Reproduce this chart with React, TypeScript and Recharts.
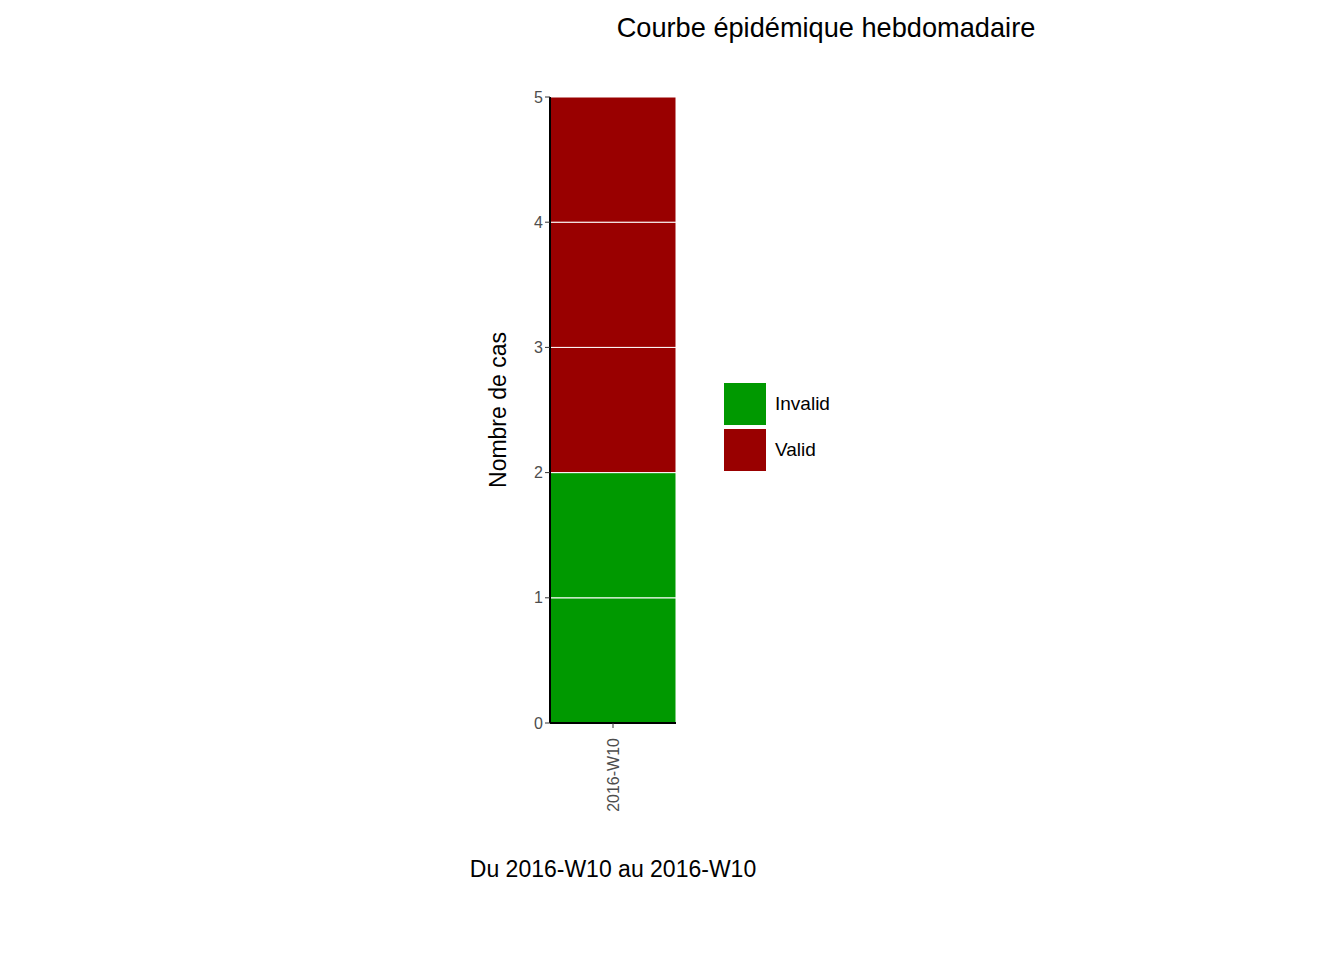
import { BarChart, Bar, XAxis, YAxis } from "recharts";

const weeks = ["2016-W10"];
const invalidCases = [1, 1];
const validCases = [1, 1, 1];
const yTicks = [0, 1, 2, 3, 4, 5];
const legendItems = [
  { label: "Invalid", color: "#009900" },
  { label: "Valid", color: "#990000" },
];

const data = weeks.map((w) => {
  const row: Record<string, number | string> = { week: w };
  invalidCases.forEach((v, i) => (row["inv" + i] = v));
  validCases.forEach((v, i) => (row["val" + i] = v));
  return row;
});

const font = "'Liberation Sans', Arial, sans-serif";

function XTick({ x, y, payload }: any) {
  return (
    <g transform={`translate(${x},${y + 8})`}>
      <text transform="rotate(-90)" textAnchor="end" dy={6} fill="#4d4d4d" fontSize={16} fontFamily={font}>
        {payload.value}
      </text>
    </g>
  );
}

export default function App() {
  return (
    <div style={{ position: "absolute", left: 0, top: 0, width: 1344, height: 960, background: "#fff", fontFamily: font }}>
      <BarChart
        width={1344}
        height={960}
        data={data}
        margin={{ top: 97, right: 668, left: 490, bottom: 107 }}
        barCategoryGap={0}
      >
        <XAxis
          dataKey="week"
          height={130}
          axisLine={{ stroke: "#000", strokeWidth: 2 }}
          tickLine={{ stroke: "#333" }}
          tickSize={5}
          tick={<XTick />}
          interval={0}
        />
        <YAxis
          width={60}
          domain={[0, 5]}
          ticks={yTicks}
          axisLine={{ stroke: "#000", strokeWidth: 2 }}
          tickLine={{ stroke: "#333" }}
          tickSize={5}
          tick={{ fill: "#4d4d4d", fontSize: 16, fontFamily: font }}
        />
        {invalidCases.map((_, i) => (
          <Bar key={"inv" + i} dataKey={"inv" + i} stackId="a" fill="#009900" stroke="#fff" strokeWidth={1} isAnimationActive={false} />
        ))}
        {validCases.map((_, i) => (
          <Bar key={"val" + i} dataKey={"val" + i} stackId="a" fill="#990000" stroke="#fff" strokeWidth={1} isAnimationActive={false} />
        ))}
      </BarChart>
      <div style={{ position: "absolute", left: 0, width: 1652, top: 12, textAlign: "center", fontSize: 32 / 1.0 * 0.85 + "px" }}>
        Courbe épidémique hebdomadaire
      </div>
      <div style={{ position: "absolute", left: 0, width: 1226, top: 856, textAlign: "center", fontSize: 23 }}>
        Du 2016-W10 au 2016-W10
      </div>
      <div
        style={{
          position: "absolute",
          left: 498,
          top: 410,
          transform: "translate(-50%,-50%) rotate(-90deg)",
          fontSize: 23,
          whiteSpace: "nowrap",
        }}
      >
        Nombre de cas
      </div>
      {legendItems.map((it, i) => (
        <div key={it.label} style={{ position: "absolute", left: 724, top: 383 + i * 46, display: "flex", alignItems: "center" }}>
          <div style={{ width: 42, height: 42, background: it.color }} />
          <span style={{ marginLeft: 9, fontSize: 19 }}>{it.label}</span>
        </div>
      ))}
    </div>
  );
}
